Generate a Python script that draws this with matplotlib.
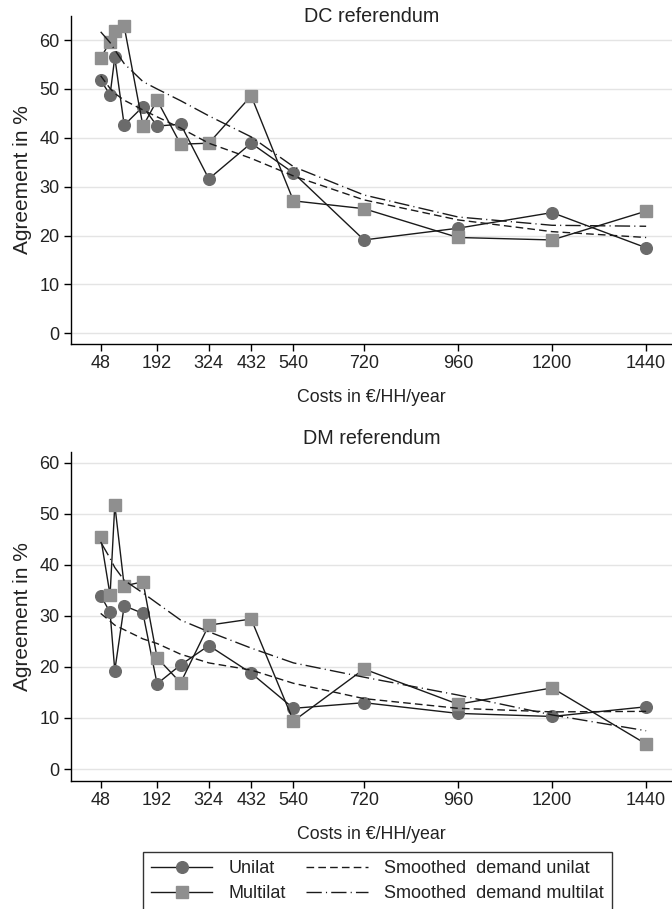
"""Agreement vs. costs for the DC and DM referendum, unilateral vs multilateral."""

import matplotlib

matplotlib.use("Agg")
import matplotlib.pyplot as plt  # noqa: E402
from matplotlib.lines import Line2D  # noqa: E402

plt.rcParams["font.family"] = ["Liberation Sans", "DejaVu Sans"]

costs = [48, 72, 84, 108, 156, 192, 252, 324, 432, 540, 720, 960, 1200, 1440]
xticks = [48, 192, 324, 432, 540, 720, 960, 1200, 1440]

# DC referendum
dc_unilat = [51.8, 48.8, 56.5, 42.6, 46.4, 42.4, 42.8, 31.6, 38.9, 32.8, 19.1, 21.5, 24.7, 17.5]
dc_multilat = [56.3, 59.7, 61.9, 62.8, 42.4, 47.7, 38.7, 38.9, 48.6, 27.1, 25.5, 19.6, 19.1, 25.0]
dc_smooth_uni = [52.7, 50.1, 49.1, 47.7, 45.7, 44.3, 42.0, 38.9, 35.8, 32.2, 27.3, 23.2, 20.8, 19.6]
dc_smooth_multi = [61.7, 59.5, 58.0, 55.2, 51.5, 50.0, 47.6, 44.5, 40.2, 34.1, 28.3, 23.8, 22.1, 21.9]

# DM referendum
dm_unilat = [34.0, 30.7, 19.3, 32.0, 30.5, 16.7, 20.4, 24.2, 18.8, 11.9, 13.0, 10.9, 10.3, 12.2]
dm_multilat = [45.4, 34.1, 51.8, 35.9, 36.7, 21.8, 16.9, 28.2, 29.4, 9.4, 19.6, 12.7, 15.9, 4.9]
dm_smooth_uni = [30.5, 29.0, 28.2, 27.3, 25.5, 24.6, 22.5, 20.8, 19.4, 16.8, 13.8, 11.9, 11.2, 11.3]
dm_smooth_multi = [44.5, 41.3, 39.5, 37.0, 34.5, 32.5, 29.2, 26.9, 23.7, 20.8, 18.0, 14.5, 10.6, 7.5]

UNI_COLOR = "#6b6b6b"
MULTI_COLOR = "#8f8f8f"
LINE_COLOR = "#1a1a1a"
TEXT_COLOR = "#222222"
DASH = (0, (5.5, 3))
DASHDOT = (0, (11, 3, 0.8, 3))

W, H = 672, 909
fig = plt.figure(figsize=(W / 100, H / 100), dpi=100)

panels = [
    ("DC referendum", dc_unilat, dc_multilat, dc_smooth_uni, dc_smooth_multi,
     (70.7, 15.7, 344.0), (-2.2, 65.0), 17),
    ("DM referendum", dm_unilat, dm_multilat, dm_smooth_uni, dm_smooth_multi,
     (70.7, 451.7, 781.0), (-2.35, 62.2), 438),
]

for title, uni, multi, s_uni, s_multi, (left, top, bottom), ylim, title_y in panels:
    ax = fig.add_axes([left / W, 1 - bottom / H, (W - left) / W, (bottom - top) / H])
    ax.plot(costs, uni, "-", color=LINE_COLOR, lw=1.0, marker="o", ms=8.4,
            mfc=UNI_COLOR, mec=UNI_COLOR, zorder=3)
    ax.plot(costs, multi, "-", color=LINE_COLOR, lw=1.0, marker="s", ms=8.0,
            mfc=MULTI_COLOR, mec=MULTI_COLOR, zorder=3)
    ax.plot(costs, s_uni, color=LINE_COLOR, lw=1.0, linestyle=DASH, zorder=4)
    ax.plot(costs, s_multi, color=LINE_COLOR, lw=1.0, linestyle=DASHDOT, zorder=4)

    ax.set_xlim(-28.5, 1506)
    ax.set_ylim(*ylim)
    ax.set_xticks(xticks)
    ax.set_yticks(range(0, 61, 10))
    ax.grid(axis="y", color="#e4e4e4", lw=1.0)
    ax.set_axisbelow(True)
    for side in ("top", "right"):
        ax.spines[side].set_visible(False)
    for side in ("left", "bottom"):
        ax.spines[side].set_color("black")
        ax.spines[side].set_linewidth(1.0)
    ax.tick_params(direction="out", length=5, width=1, colors="black",
                   labelsize=13, pad=3, labelcolor=TEXT_COLOR)
    ax.set_xlabel("Costs in €/HH/year", fontsize=12.8, labelpad=12, color=TEXT_COLOR)
    ax.set_ylabel("Agreement in %", fontsize=15, labelpad=5, color=TEXT_COLOR)
    fig.text((left + W) / 2 / W, 1 - title_y / H, title, ha="center", va="center",
             fontsize=14.2, color=TEXT_COLOR)

handles = [
    Line2D([], [], color=LINE_COLOR, lw=1.0, marker="o", ms=8.4, mfc=UNI_COLOR, mec=UNI_COLOR),
    Line2D([], [], color=LINE_COLOR, lw=1.0, marker="s", ms=8.0, mfc=MULTI_COLOR, mec=MULTI_COLOR),
    Line2D([], [], color=LINE_COLOR, lw=1.0, linestyle=DASH),
    Line2D([], [], color=LINE_COLOR, lw=1.0, linestyle=DASHDOT),
]
labels = ["Unilat", "Multilat", "Smoothed  demand unilat", "Smoothed  demand multilat"]
leg = fig.legend(handles, labels, ncol=2, loc="upper left",
                 bbox_to_anchor=(142.7 / W, 1 - 852 / H, (612 - 142.7) / W, 0),
                 mode="expand", frameon=True, fancybox=False, edgecolor="black",
                 borderaxespad=0, fontsize=13, handlelength=3.4, handletextpad=0.9,
                 labelspacing=0.45, borderpad=0.45, columnspacing=0.6)
leg.get_frame().set_linewidth(1.0)
for t in leg.get_texts():
    t.set_color(TEXT_COLOR)

fig.savefig("out.png", dpi=100)
